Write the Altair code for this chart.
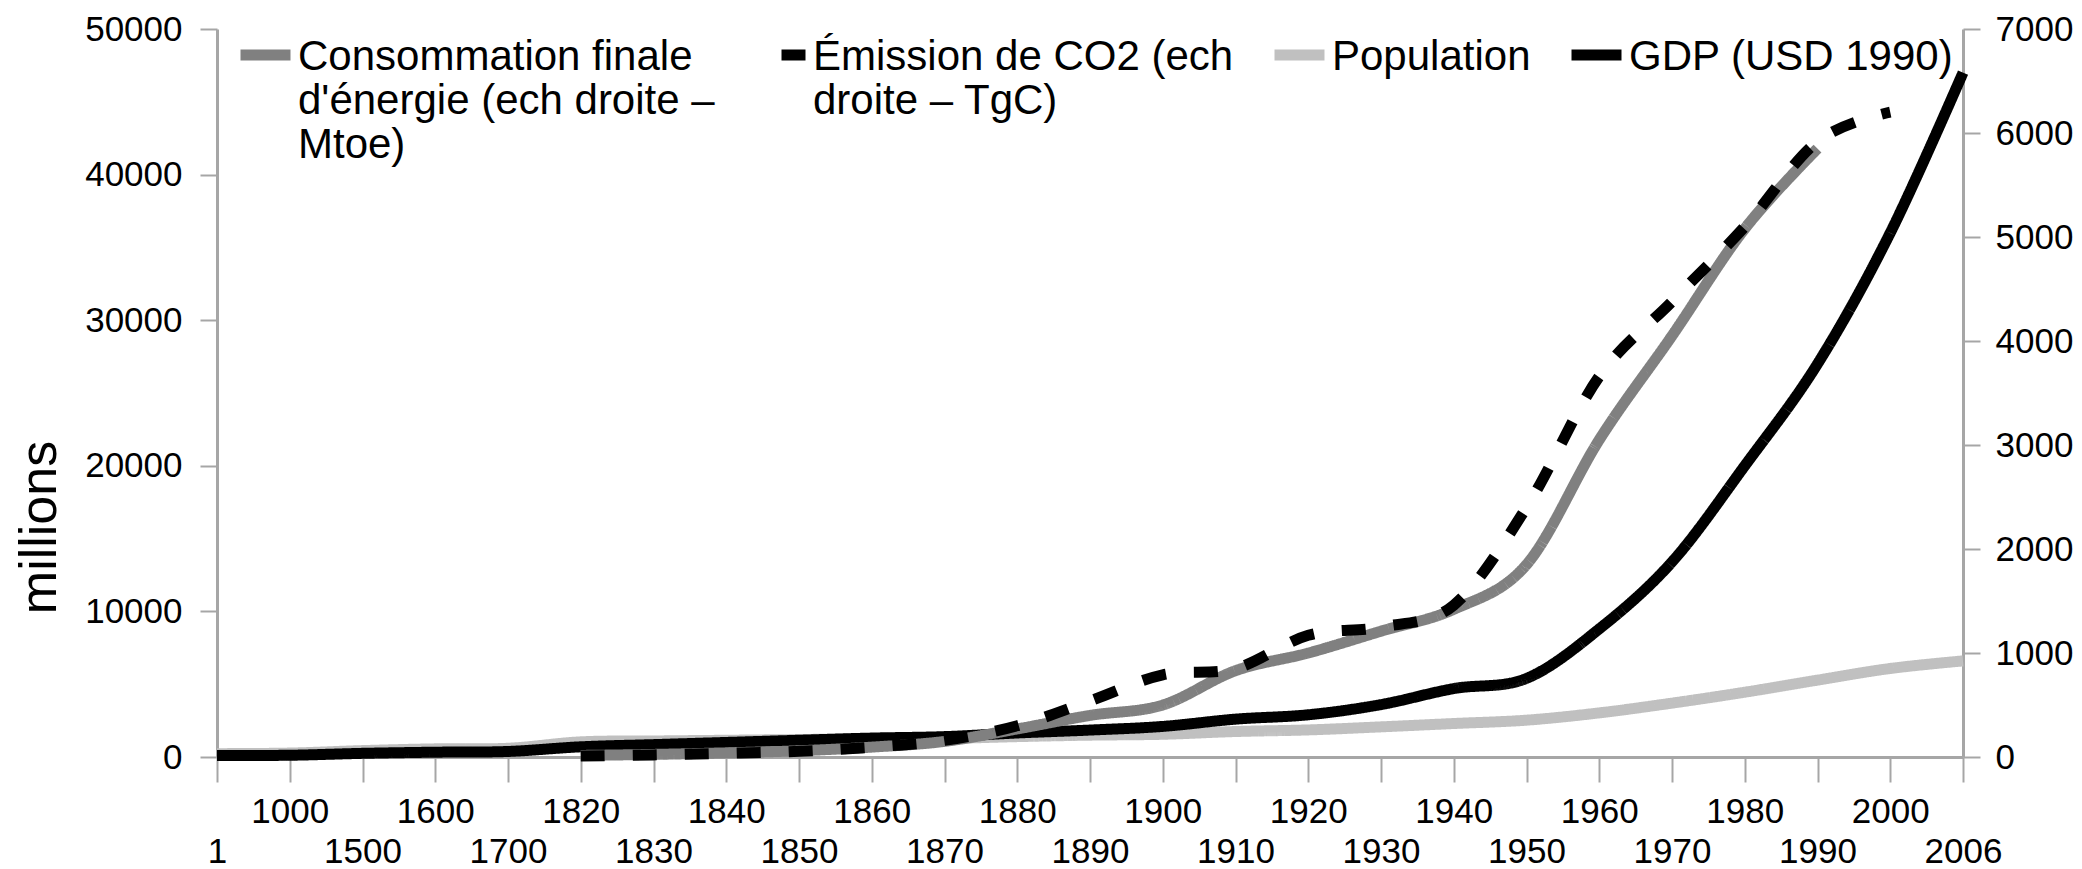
import json
import altair as alt
import pandas as pd

# ---- data ----
categories = ["1", "1000", "1500", "1600", "1700", "1820", "1830", "1840", "1850",
              "1860", "1870", "1880", "1890", "1900", "1910", "1920", "1930", "1940",
              "1950", "1960", "1970", "1980", "1990", "2000", "2006"]

energy_name = "Consommation finale d'énergie (ech droite – Mtoe)"
co2_name = "Émission de CO2 (ech droite – TgC)"
pop_name = "Population"
gdp_name = "GDP (USD 1990)"

# right axis (Mtoe / TgC)
energy = [None, None, None, None, None, 15, 25, 40, 60, 95, 150, 270, 400, 500,
          830, 1000, 1210, 1420, 1850, 3050, 4050, 5080, 5850, None, None]
co2 = [None, None, None, None, None, 10, 20, 35, 55, 95, 160, 300, 540, 790,
       850, 1170, 1250, 1460, 2400, 3660, 4380, 5100, 5920, 6200, None]
# left axis (millions)
population = [230, 270, 440, 560, 600, 1040, 1100, 1150, 1200, 1250, 1270, 1400,
              1500, 1560, 1750, 1860, 2070, 2300, 2530, 3030, 3700, 4450, 5280,
              6080, 6600]
gdp = [105, 120, 250, 330, 380, 700, 850, 1000, 1150, 1300, 1400, 1650, 1850,
       2100, 2600, 2900, 3600, 4700, 5400, 8800, 13400, 20000, 27000, 36000, 47000]

series_order = [energy_name, co2_name, pop_name, gdp_name]
series_colors = ["#808080", "#000000", "#c0c0c0", "#000000"]
series_dash = [[1, 0], [24, 28], [1, 0], [1, 0]]
# legend labels wrapped as in the reference (padded to the same number of lines)
legend_lines = {
    energy_name: ["Consommation finale", "d'énergie (ech droite –", "Mtoe)"],
    co2_name: ["Émission de CO2 (ech", "droite – TgC)", ""],
    pop_name: ["Population", "", ""],
    gdp_name: ["GDP (USD 1990)", "", ""],
}
left_ticks = [0, 10000, 20000, 30000, 40000, 50000]
right_ticks = [0, 1000, 2000, 3000, 4000, 5000, 6000, 7000]

rows = []
for name, vals, side in [(pop_name, population, "left"), (gdp_name, gdp, "left"),
                         (energy_name, energy, "right"), (co2_name, co2, "right")]:
    for yr, v in zip(categories, vals):
        if v is not None:
            rows.append({"year": yr, "series": name, "value": v, "axis": side})
df = pd.DataFrame(rows)

FONT = "Liberation Sans"

# legend label expression (multi-line labels)
lab_expr = "datum.label"
for name in reversed(series_order):
    lab_expr = ("datum.label === " + json.dumps(name, ensure_ascii=False) + " ? "
                + json.dumps(legend_lines[name], ensure_ascii=False) + " : (" + lab_expr + ")")

x_label_expr = ("indexof(" + json.dumps(categories) + ", datum.value) % 2 == 0 ? "
                "['', datum.label] : datum.label")

legend = alt.Legend(
    orient="none", legendX=18, legendY=-23, direction="horizontal", columns=4,
    columnPadding=18, labelOffset=2, labelFont=FONT, labelFontSize=42,
    labelBaseline="top", labelLimit=1000, labelColor="#000000",
    symbolType="M-1,0.73H1", symbolSize=50 * 50, symbolStrokeWidth=11,
    symbolDashOffset=26, title=None, padding=0, labelExpr=lab_expr,
)

color = alt.Color("series:N", scale=alt.Scale(domain=series_order, range=series_colors),
                  legend=legend)
dash = alt.StrokeDash("series:N", scale=alt.Scale(domain=series_order, range=series_dash),
                      legend=legend)

x_enc = alt.X(
    "year:N",
    scale=alt.Scale(type="point", padding=0, domain=categories),
    axis=alt.Axis(title=None, labelAngle=0, labelExpr=x_label_expr, labelFont=FONT,
                  labelFontSize=35, labelBaseline="top", labelLineHeight=40,
                  labelPadding=12, tickSize=25, labelOverlap=False, labelFlush=False,
                  labelColor="#000000"),
)

base = alt.Chart(df).encode(x=x_enc, color=color, strokeDash=dash)

left = base.transform_filter(alt.datum.axis == "left").mark_line(
    interpolate="cardinal", strokeWidth=11, strokeCap="butt", strokeJoin="round"
).encode(
    y=alt.Y("value:Q", scale=alt.Scale(domain=[0, 50000], nice=False, zero=True),
            axis=alt.Axis(orient="left", values=left_ticks, title="millions",
                          titleFont=FONT, titleFontSize=52, titleFontWeight="normal",
                          titleAngle=270, titleAlign="center", titleBaseline="middle",
                          titleX=-178, titleY=498, titleColor="#000000",
                          labelFont=FONT, labelFontSize=35, labelPadding=18,
                          tickSize=17, labelColor="#000000", format="d")),
)

right = base.transform_filter(alt.datum.axis == "right").mark_line(
    interpolate="cardinal", strokeWidth=11, strokeCap="butt", strokeJoin="round"
).encode(
    y=alt.Y("value:Q", scale=alt.Scale(domain=[0, 7000], nice=False, zero=True),
            axis=alt.Axis(orient="right", values=right_ticks, title=None,
                          labelFont=FONT, labelFontSize=35, labelPadding=15,
                          tickSize=17, labelColor="#000000", format="d")),
)

chart = alt.layer(left, right).resolve_scale(y="independent").properties(
    width=1746, height=728,
    autosize=alt.AutoSizeParams(type="none"),
    padding={"left": 209, "top": 21, "right": 111, "bottom": 120},
    background="#ffffff",
).configure_view(stroke=None).configure_axis(
    grid=False, domainColor="#a6a6a6", domainWidth=3, tickColor="#a6a6a6",
    tickWidth=2,
)

chart.save("out.html", embed_options={"renderer": "svg", "actions": False})
